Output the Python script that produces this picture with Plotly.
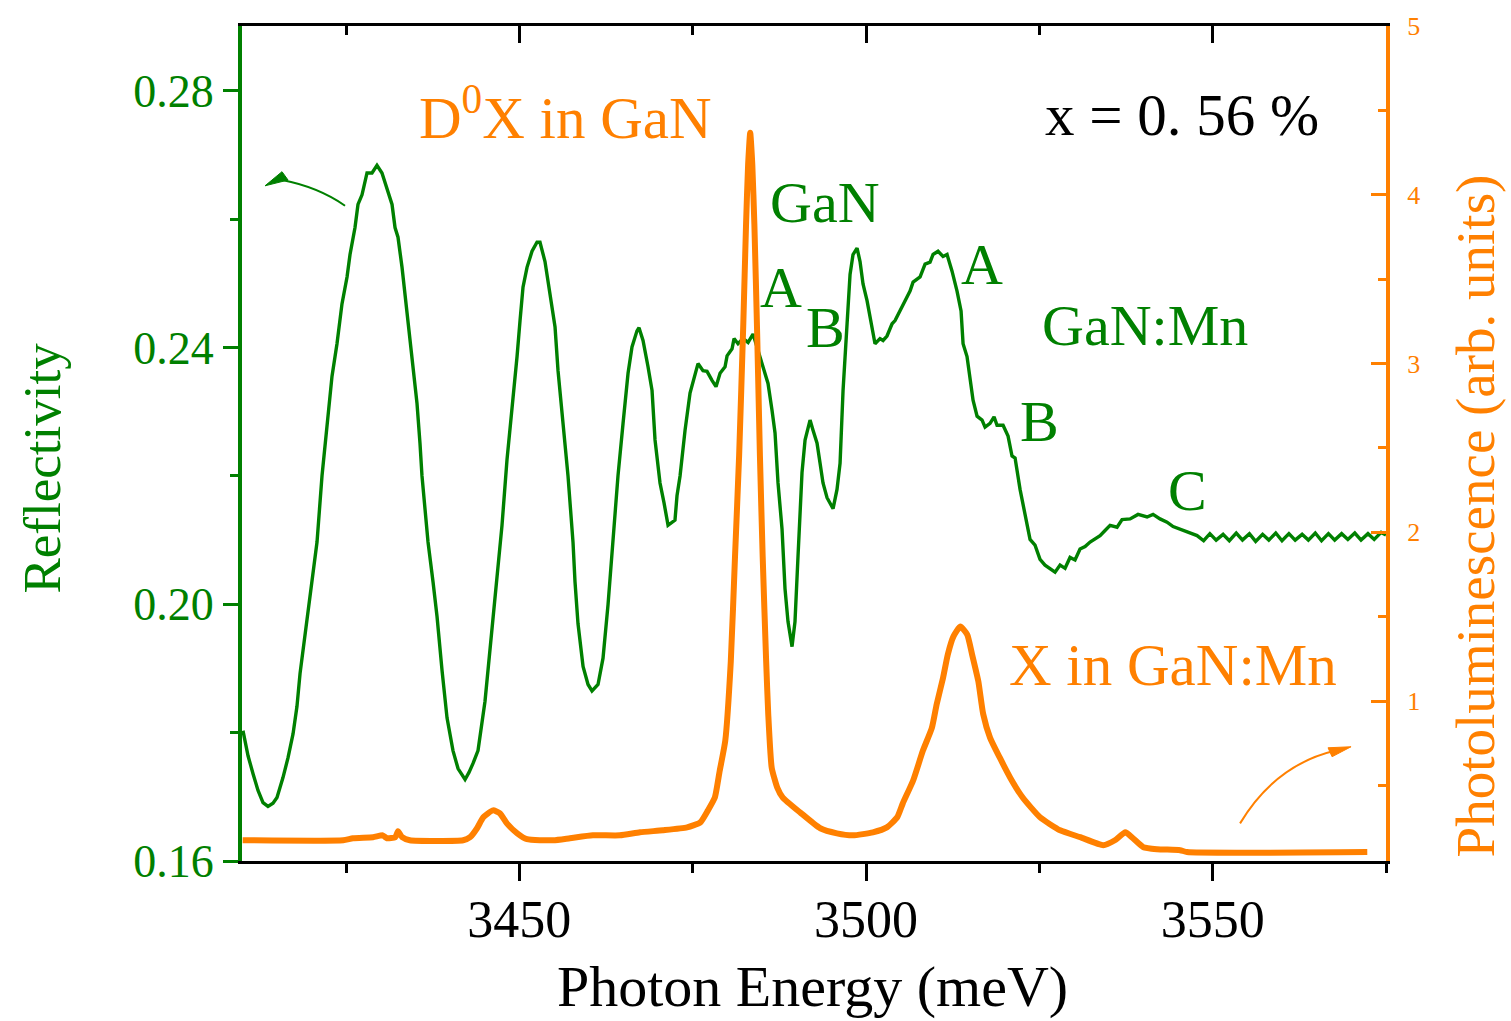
import plotly.graph_objects as go

# ---------------- data ----------------
# Reflectivity (left axis)
energy_refl = [
    3410.14, 3410.87, 3411.59, 3412.31, 3413.03, 3413.75, 3414.47, 3415.05, 3415.91, 3416.64,
    3417.36, 3417.93, 3418.37, 3419.09, 3420.10, 3420.82, 3421.54, 3422.26, 3422.98, 3423.70,
    3424.42, 3425.15, 3425.58, 3426.30, 3426.73, 3427.31, 3428.03, 3428.75, 3429.47, 3430.19,
    3430.91, 3431.64, 3432.07, 3432.50, 3433.08, 3433.80, 3434.52, 3435.24, 3435.67, 3435.96,
    3436.40, 3436.83, 3437.55, 3438.13, 3438.85, 3439.57, 3440.43, 3441.16, 3442.17, 3442.74,
    3443.32, 3444.04, 3445.05, 3445.77, 3446.78, 3447.50, 3448.22, 3448.94, 3449.67, 3450.10,
    3450.53, 3451.11, 3451.83, 3452.55, 3452.98, 3453.70, 3454.43, 3455.15, 3455.58, 3456.30,
    3457.02, 3457.74, 3458.03, 3458.46, 3459.19, 3459.91, 3460.48, 3461.35, 3462.07, 3462.79,
    3463.51, 3464.23, 3464.96, 3465.68, 3466.25, 3466.97, 3467.26, 3467.84, 3468.56, 3469.14,
    3469.57, 3470.29, 3470.87, 3471.45, 3472.45, 3472.74, 3473.18, 3473.90, 3474.62, 3475.34,
    3475.77, 3476.49, 3477.07, 3477.79, 3478.37, 3478.95, 3479.67, 3479.96, 3480.68, 3480.97,
    3481.54, 3482.27, 3482.99, 3483.71, 3484.72, 3485.15, 3485.87, 3486.45, 3486.88, 3487.31,
    3487.89, 3488.32, 3488.75, 3489.33, 3489.76, 3490.20, 3490.77, 3491.21, 3491.93, 3492.36,
    3492.94, 3493.37, 3493.80, 3494.38, 3495.25, 3495.82, 3496.26, 3496.69, 3497.27, 3497.70,
    3498.13, 3498.71, 3499.14, 3499.57, 3500.15, 3500.58, 3501.02, 3501.30, 3502.02, 3502.46,
    3503.03, 3503.76, 3504.19, 3504.91, 3505.63, 3506.35, 3506.79, 3507.80, 3508.52, 3509.24,
    3509.67, 3510.39, 3511.11, 3511.69, 3512.41, 3513.13, 3513.71, 3514.00, 3514.57, 3515.01,
    3515.44, 3516.02, 3516.74, 3517.17, 3517.89, 3518.47, 3518.90, 3519.77, 3520.49, 3521.06,
    3521.50, 3522.22, 3522.94, 3523.66, 3524.38, 3525.10, 3525.82, 3526.55, 3527.27, 3527.99,
    3528.71, 3529.43, 3530.15, 3530.87, 3531.60, 3532.32, 3533.04, 3533.76, 3534.48, 3535.20,
    3536.21, 3536.93, 3538.09, 3539.24, 3540.54, 3541.40, 3542.41, 3543.42, 3544.29, 3545.30,
    3546.31, 3547.75, 3548.70, 3549.60, 3550.50, 3551.50, 3552.40, 3553.40, 3554.30, 3555.30,
    3556.20, 3557.20, 3558.10, 3559.10, 3560.00, 3561.00, 3561.90, 3562.90, 3563.80, 3564.80,
    3565.70, 3566.70, 3567.60, 3568.60, 3569.50, 3570.50, 3571.40, 3572.40, 3573.30, 3574.30,
    3575.00,
]
reflectivity = [
    0.1803, 0.1764, 0.1736, 0.1710, 0.1691, 0.1685, 0.1690, 0.1699, 0.1730, 0.1761,
    0.1798, 0.1841, 0.1892, 0.1950, 0.2035, 0.2097, 0.2200, 0.2278, 0.2355, 0.2406,
    0.2468, 0.2510, 0.2545, 0.2587, 0.2623, 0.2638, 0.2672, 0.2672, 0.2684, 0.2672,
    0.2649, 0.2623, 0.2587, 0.2572, 0.2525, 0.2457, 0.2386, 0.2313, 0.2251, 0.2200,
    0.2148, 0.2097, 0.2035, 0.1981, 0.1897, 0.1823, 0.1772, 0.1744, 0.1727, 0.1738,
    0.1752, 0.1772, 0.1849, 0.1926, 0.2035, 0.2123, 0.2225, 0.2302, 0.2386, 0.2442,
    0.2494, 0.2525, 0.2550, 0.2564, 0.2564, 0.2534, 0.2483, 0.2432, 0.2364, 0.2278,
    0.2200, 0.2097, 0.2035, 0.1970, 0.1903, 0.1875, 0.1865, 0.1875, 0.1916, 0.1999,
    0.2101, 0.2200, 0.2282, 0.2360, 0.2401, 0.2426, 0.2431, 0.2411, 0.2370, 0.2333,
    0.2256, 0.2189, 0.2158, 0.2123, 0.2131, 0.2169, 0.2200, 0.2271, 0.2329, 0.2355,
    0.2375, 0.2364, 0.2363, 0.2349, 0.2339, 0.2360, 0.2370, 0.2387, 0.2398, 0.2414,
    0.2406, 0.2414, 0.2408, 0.2421, 0.2387, 0.2370, 0.2344, 0.2302, 0.2267, 0.2189,
    0.2117, 0.2024, 0.1973, 0.1934, 0.1973, 0.2076, 0.2205, 0.2256, 0.2287, 0.2271,
    0.2251, 0.2220, 0.2189, 0.2166, 0.2149, 0.2179, 0.2220, 0.2333, 0.2437, 0.2514,
    0.2545, 0.2555, 0.2534, 0.2499, 0.2473, 0.2448, 0.2421, 0.2406, 0.2414, 0.2411,
    0.2418, 0.2437, 0.2442, 0.2457, 0.2473, 0.2488, 0.2502, 0.2510, 0.2530, 0.2533,
    0.2545, 0.2550, 0.2542, 0.2545, 0.2519, 0.2488, 0.2457, 0.2406, 0.2386, 0.2349,
    0.2318, 0.2293, 0.2287, 0.2276, 0.2282, 0.2292, 0.2279, 0.2279, 0.2262, 0.2231,
    0.2228, 0.2179, 0.2143, 0.2101, 0.2092, 0.2070, 0.2061, 0.2055, 0.2050, 0.2061,
    0.2056, 0.2073, 0.2069, 0.2086, 0.2090, 0.2097, 0.2102, 0.2107, 0.2115, 0.2123,
    0.2120, 0.2132, 0.2133, 0.2140, 0.2136, 0.2140, 0.2133, 0.2128, 0.2121, 0.2117,
    0.2112, 0.2107, 0.2099, 0.2110, 0.2100, 0.2109, 0.2099, 0.2111, 0.2100, 0.2110,
    0.2098, 0.2109, 0.2100, 0.2111, 0.2099, 0.2110, 0.2100, 0.2109, 0.2100, 0.2111,
    0.2099, 0.2110, 0.2100, 0.2110, 0.2101, 0.2111, 0.2100, 0.2110, 0.2101, 0.2112,
    0.2108,
]

# Photoluminescence (right axis)
energy_pl = [
    3410.1, 3424.6, 3426.0, 3428.9, 3430.3, 3430.9, 3432.1, 3432.5, 3433.1, 3434.2,
    3441.9, 3442.9, 3443.9, 3444.8, 3446.2, 3447.2, 3448.2, 3449.7, 3451.1, 3454.9,
    3457.3, 3460.6, 3464.5, 3467.4, 3470.7, 3474.2, 3476.1, 3477.2, 3478.2, 3478.9,
    3479.7, 3480.5, 3481.1, 3481.7, 3482.3, 3482.7, 3483.0, 3483.3, 3483.6, 3483.9,
    3484.3, 3484.7, 3485.1, 3485.6, 3485.9, 3486.4, 3487.2, 3488.0, 3490.5, 3493.4,
    3495.8, 3498.1, 3501.0, 3503.0, 3504.5, 3505.3, 3506.8, 3508.2, 3509.5, 3510.2,
    3511.1, 3511.8, 3512.6, 3513.6, 3514.6, 3515.3, 3516.2, 3516.9, 3517.9, 3519.3,
    3520.8, 3522.6, 3525.1, 3528.0, 3530.9, 3534.2, 3535.9, 3537.4, 3538.5, 3540.0,
    3542.0, 3545.3, 3546.3, 3572.3,
]
photoluminescence = [
    0.175, 0.175, 0.187, 0.193, 0.204, 0.187, 0.193, 0.228, 0.193, 0.175,
    0.175, 0.193, 0.246, 0.311, 0.352, 0.334, 0.275, 0.216, 0.181, 0.175,
    0.187, 0.204, 0.204, 0.222, 0.234, 0.251, 0.281, 0.352, 0.428, 0.587,
    0.764, 1.235, 1.848, 2.454, 3.232, 3.826, 4.180, 4.368, 4.180, 3.826,
    3.179, 2.454, 1.854, 1.235, 0.923, 0.605, 0.487, 0.428, 0.340, 0.246,
    0.216, 0.204, 0.222, 0.251, 0.311, 0.393, 0.529, 0.705, 0.841, 0.982,
    1.135, 1.276, 1.382, 1.441, 1.394, 1.276, 1.117, 0.923, 0.782, 0.664,
    0.546, 0.428, 0.311, 0.234, 0.193, 0.146, 0.175, 0.222, 0.187, 0.134,
    0.122, 0.116, 0.105, 0.105,
]

x_ticks = [3450, 3500, 3550]
refl_ticks = [0.16, 0.20, 0.24, 0.28]
pl_ticks = [1, 2, 3, 4, 5]

# ---------------- styling ----------------
GREEN = "#008000"
ORANGE = "#FF8000"
FONT = "Liberation Serif"

fig = go.Figure()
fig.add_trace(go.Scatter(x=energy_refl, y=reflectivity, mode="lines",
                         line=dict(color=GREEN, width=3.4), xaxis="x", yaxis="y",
                         showlegend=False, hoverinfo="skip"))
fig.add_trace(go.Scatter(x=energy_pl, y=photoluminescence, mode="lines",
                         line=dict(color=ORANGE, width=6, shape="spline", smoothing=0.5),
                         xaxis="x", yaxis="y2", showlegend=False, hoverinfo="skip"))
# invisible trace to activate the top axis
fig.add_trace(go.Scatter(x=[3500], y=[0.2], mode="markers", opacity=0,
                         xaxis="x2", yaxis="y", showlegend=False, hoverinfo="skip"))

fig.update_layout(
    width=1511, height=1021,
    margin=dict(l=242, r=125, t=20, b=160),
    paper_bgcolor="white", plot_bgcolor="white",
    font=dict(family=FONT),
    xaxis=dict(range=[3410, 3575], tickvals=x_ticks, ticks="outside", ticklen=17, tickwidth=3,
               tickcolor="black", showline=True, linecolor="black", linewidth=3,
               showgrid=False, zeroline=False,
               tickfont=dict(family=FONT, size=52, color="black"), ticklabelstandoff=-6,
               minor=dict(tickvals=[3425, 3475, 3525, 3575], ticks="outside", ticklen=9,
                          tickwidth=3, tickcolor="black", showgrid=False),
               anchor="y"),
    xaxis2=dict(range=[3410, 3575], overlaying="x", side="top", tickvals=x_ticks,
                ticks="inside", ticklen=17, tickwidth=3, tickcolor="black",
                showline=True, linecolor="black", linewidth=3, showgrid=False,
                zeroline=False, showticklabels=False,
                minor=dict(tickvals=[3425, 3475, 3525], ticks="inside", ticklen=9,
                           tickwidth=3, tickcolor="black", showgrid=False),
                anchor="y"),
    yaxis=dict(range=[0.16, 0.2901], tickvals=refl_ticks, tickformat=".2f",
               ticks="outside", ticklen=15, tickwidth=3, tickcolor=GREEN,
               showline=True, linecolor=GREEN, linewidth=4, showgrid=False, zeroline=False,
               tickfont=dict(family=FONT, size=46, color=GREEN),
               minor=dict(tickvals=[0.18, 0.22, 0.26], ticks="outside", ticklen=8,
                          tickwidth=3, tickcolor=GREEN, showgrid=False)),
    yaxis2=dict(range=[0.052, 5.0], tickvals=pl_ticks, overlaying="y", side="right",
                ticks="inside", ticklen=15, tickwidth=3, tickcolor=ORANGE,
                showline=True, linecolor=ORANGE, linewidth=4, showgrid=False, zeroline=False,
                tickfont=dict(family=FONT, size=26, color=ORANGE), ticklabelstandoff=12,
                minor=dict(tickvals=[0.5, 1.5, 2.5, 3.5, 4.5], ticks="inside", ticklen=8,
                           tickwidth=3, tickcolor=ORANGE, showgrid=False)),
)

# axis titles
fig.add_annotation(text="Photon Energy (meV)", xref="paper", yref="paper", x=0.499, y=-0.150,
                   showarrow=False, font=dict(family=FONT, size=58, color="black"),
                   xanchor="center", yanchor="middle")
fig.add_annotation(text="Reflectivity", xref="paper", yref="paper", x=-0.175, y=0.471,
                   showarrow=False, textangle=-90, font=dict(family=FONT, size=53, color=GREEN),
                   xanchor="center", yanchor="middle")
fig.add_annotation(text="Photoluminescence (arb. units)", xref="paper", yref="paper",
                   x=1.078, y=0.413, showarrow=False, textangle=-90,
                   font=dict(family=FONT, size=55, color=ORANGE),
                   xanchor="center", yanchor="middle")

# in-plot labels
labels = [
    ("D<sup>0</sup>X in GaN", 3456.6, 0.2765, ORANGE, 59),
    ("x = 0. 56 %", 3545.6, 0.2762, "black", 59),
    ("GaN", 3494.1, 0.2626, GREEN, 58),
    ("A", 3487.7, 0.2494, GREEN, 58),
    ("B", 3494.2, 0.2432, GREEN, 58),
    ("A", 3516.7, 0.2530, GREEN, 58),
    ("GaN:Mn", 3540.2, 0.2435, GREEN, 58),
    ("B", 3525.0, 0.2285, GREEN, 58),
    ("C", 3546.3, 0.2177, GREEN, 58),
    ("X in GaN:Mn", 3544.3, 0.1906, ORANGE, 59),
]
for txt, lx, ly, col, sz in labels:
    fig.add_annotation(text=txt, x=lx, y=ly, xref="x", yref="y", showarrow=False,
                       font=dict(family=FONT, size=sz, color=col),
                       xanchor="center", yanchor="middle")

# curved arrows
fig.add_shape(type="path", xref="x", yref="y",
              path="M 3424.86 0.2621 Q 3421.0 0.2650 3415.8 0.2661",
              line=dict(color=GREEN, width=2))
fig.add_shape(type="path", xref="x", yref="y",
              path="M 3413.32 0.2652 L 3415.77 0.2674 L 3416.64 0.2661 Z",
              line=dict(color=GREEN, width=1), fillcolor=GREEN)
fig.add_shape(type="path", xref="x", yref="y2",
              path="M 3553.95 0.275 Q 3559.0 0.62 3567.6 0.705",
              line=dict(color=ORANGE, width=2))
fig.add_shape(type="path", xref="x", yref="y2",
              path="M 3569.96 0.729 L 3566.64 0.723 L 3567.22 0.670 Z",
              line=dict(color=ORANGE, width=1), fillcolor=ORANGE)

fig.write_html("out.html")
